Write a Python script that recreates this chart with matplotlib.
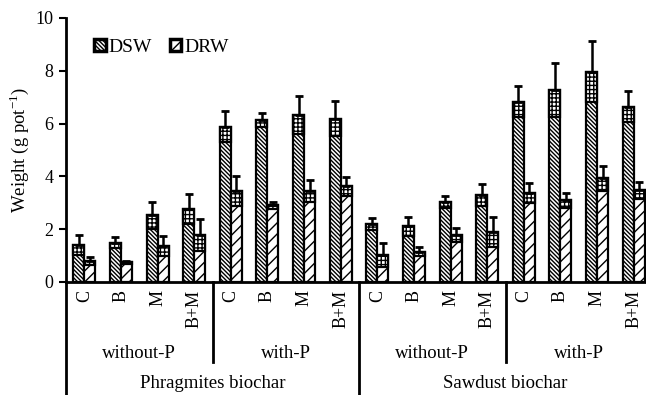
"""Shoot and root dry weight bars for the two biochars, with and without P."""

import matplotlib

matplotlib.use("Agg")
import matplotlib.pyplot as plt
import matplotlib.transforms as mtransforms
import numpy as np

treatments = ["C", "B", "M", "B+M"] * 4
p_levels = ["without-P", "with-P", "without-P", "with-P"]
biochars = ["Phragmites biochar", "Sawdust biochar"]

dsw = [1.40, 1.49, 2.52, 2.77, 5.89, 6.15, 6.31, 6.19,
       2.20, 2.12, 3.02, 3.30, 6.83, 7.27, 7.97, 6.64]
dsw_err = [0.37, 0.21, 0.50, 0.56, 0.57, 0.27, 0.72, 0.65,
           0.22, 0.36, 0.22, 0.41, 0.59, 1.01, 1.17, 0.59]
drw = [0.81, 0.74, 1.38, 1.78, 3.43, 2.90, 3.45, 3.62,
       1.02, 1.15, 1.78, 1.91, 3.36, 3.10, 3.93, 3.48]
drw_err = [0.15, 0.04, 0.38, 0.60, 0.57, 0.12, 0.42, 0.35,
           0.45, 0.17, 0.26, 0.57, 0.38, 0.28, 0.47, 0.32]

plt.rcParams["font.family"] = ["Liberation Serif", "DejaVu Serif"]
plt.rcParams["mathtext.fontset"] = "custom"
plt.rcParams["mathtext.rm"] = "Liberation Serif"
plt.rcParams["hatch.linewidth"] = 1.0

W, H = 646, 395
fig = plt.figure(figsize=(W / 100, H / 100), dpi=100)
ax = fig.add_axes([66 / W, (H - 282) / H, (652 - 66) / W, (282 - 18) / H])

x = np.arange(len(treatments)) + 0.5
bw = 0.3
ax.bar(x - bw / 2, dsw, bw, color="white", edgecolor="black", lw=1.6,
       hatch="\\" * 8, label="DSW", zorder=2)
ax.bar(x + bw / 2, drw, bw, color="white", edgecolor="black", lw=1.6,
       hatch="///", label="DRW", zorder=2)
# the lower half of each error bar sits over the hatch as a gridded patch
ax.bar(x - bw / 2, dsw_err, bw, bottom=np.subtract(dsw, dsw_err), color="white",
       edgecolor="black", lw=1.6, hatch="++++", zorder=3)
ax.bar(x + bw / 2, drw_err, bw, bottom=np.subtract(drw, drw_err), color="white",
       edgecolor="black", lw=1.6, hatch="++++", zorder=3)
ax.errorbar(x - bw / 2, dsw, yerr=[np.zeros(len(dsw)), dsw_err], fmt="none",
            ecolor="black", elinewidth=1.8, capsize=3, capthick=2, zorder=4)
ax.errorbar(x + bw / 2, drw, yerr=[np.zeros(len(drw)), drw_err], fmt="none",
            ecolor="black", elinewidth=1.8, capsize=3, capthick=2, zorder=4)

ax.set_xlim(0, len(treatments))
ax.set_ylim(0, 10)
ax.set_yticks(range(0, 11, 2))
ax.tick_params(axis="y", direction="out", length=5, width=1.5, labelsize=13, pad=4)
ax.set_xticks([])
for side in ("top", "right"):
    ax.spines[side].set_visible(False)
for side in ("left", "bottom"):
    ax.spines[side].set_linewidth(2)
ax.set_ylabel(r"Weight (g pot$^{\mathregular{-1}}$)", fontsize=13.5, labelpad=3)

leg = ax.legend(loc="upper left", bbox_to_anchor=(0.035, 0.95), ncol=2, frameon=False,
                fontsize=14, handlelength=0.6, handleheight=0.6,
                handletextpad=0.15, columnspacing=0.9, borderaxespad=0)
for patch in leg.get_patches():
    patch.set_linewidth(2.5)

# hierarchical category axis below the plot
trans = mtransforms.blended_transform_factory(ax.transData, fig.transFigure)
fy = lambda py: (H - py) / H
for xi, lab in zip(x, treatments):
    ax.text(xi, fy(290), lab, transform=trans, rotation=90, ha="center", va="top",
            fontsize=13)
for g, lab in enumerate(p_levels):
    ax.text(4 * g + 2, fy(354), lab, transform=trans, ha="center", va="center",
            fontsize=13.5)
for g, lab in enumerate(biochars):
    ax.text(8 * g + 4, fy(383), lab, transform=trans, ha="center", va="center",
            fontsize=13.5)
for xb in (4, 12):
    ax.plot([xb, xb], [fy(282), fy(362)], transform=trans, color="black", lw=2,
            clip_on=False)
for xb in (0, 8):
    ax.plot([xb, xb], [fy(282), fy(395)], transform=trans, color="black", lw=2,
            clip_on=False)

fig.savefig("out.png", dpi=100)
